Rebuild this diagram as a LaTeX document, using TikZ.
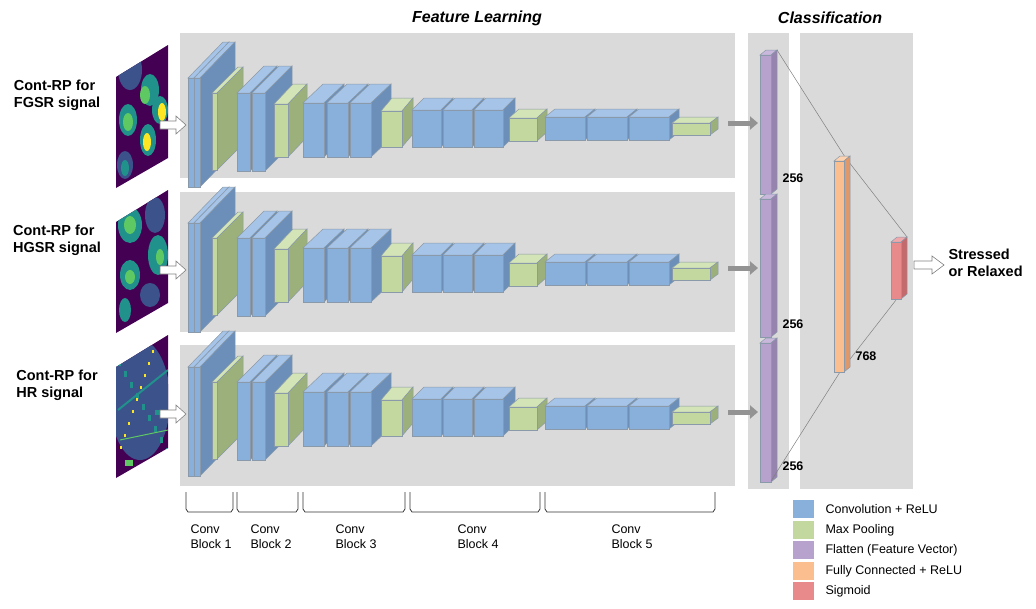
\documentclass[tikz,border=0pt]{standalone}
\usepackage{fontspec}
\setmainfont{Liberation Sans}
\usetikzlibrary{arrows.meta}
\definecolor{panel}{HTML}{DADADA}
\definecolor{edge}{HTML}{8A9AAA}
\definecolor{cb}{HTML}{88B0DA}\definecolor{cbtop}{HTML}{A6C4E8}\definecolor{cbside}{HTML}{6B8FB8}
\definecolor{cg}{HTML}{C3D89E}\definecolor{cgtop}{HTML}{D3E4B6}\definecolor{cgside}{HTML}{9BB07A}
\definecolor{cp}{HTML}{B7A2CE}\definecolor{cptop}{HTML}{C9B8DC}\definecolor{cpside}{HTML}{9683AE}
\definecolor{co}{HTML}{FBBE8E}\definecolor{cotop}{HTML}{FDD2B0}\definecolor{coside}{HTML}{DE986A}
\definecolor{cr}{HTML}{E8898B}\definecolor{crtop}{HTML}{F0A8AA}\definecolor{crside}{HTML}{C46A6C}
\definecolor{vd}{HTML}{440154}\definecolor{vb}{HTML}{3B528B}\definecolor{vt}{HTML}{21918C}\definecolor{vg}{HTML}{5EC962}\definecolor{vy}{HTML}{FDE725}
\newcommand\cub[7]{%
 \filldraw[fill=#7top,draw=edge,line width=0.5pt] (#1,#2) -- ++(#5,-#6) -- ++(#3,0) -- ++(-#5,#6) -- cycle;
 \filldraw[fill=#7side,draw=edge,line width=0.5pt] ({#1+#3},#2) -- ++(#5,-#6) -- ++(0,#4) -- ++(-#5,#6) -- cycle;
 \filldraw[fill=#7,draw=edge,line width=0.5pt] (#1,#2) rectangle ++(#3,#4);}
\newcommand\cnnrow{%
 \cub{188}{78}{6}{109}{35}{36}{cb}\cub{194}{78}{6}{109}{35}{36}{cb}
 \cub{212}{93}{5}{77}{26}{26}{cg}
 \cub{237}{93}{13}{78}{27}{27}{cb}\cub{252}{93}{13}{78}{27}{27}{cb}
 \cub{274}{104}{14}{53}{19}{20}{cg}
 \cub{303}{103}{21}{54}{20}{19}{cb}\cub{327}{103}{21}{54}{20}{19}{cb}\cub{350}{103}{21}{54}{20}{19}{cb}
 \cub{381}{111}{21}{36}{11}{13}{cg}
 \cub{412}{110}{29}{37}{12}{12}{cb}\cub{443}{110}{29}{37}{12}{12}{cb}\cub{474}{110}{29}{37}{12}{12}{cb}
 \cub{509}{118}{28}{23}{10}{9}{cg}
 \cub{545}{117}{40}{23}{10}{8}{cb}\cub{587}{117}{40}{23}{10}{8}{cb}\cub{629}{117}{40}{23}{10}{8}{cb}
 \cub{672}{123}{38}{12}{8}{6}{cg}
 \draw[line width=5pt,color=gray!85,-{Triangle[length=8pt,width=13pt]}] (728,123) -- (758,123);
 \draw[fill=white,draw=gray,line width=0.6pt] (160,121) -- (176,121) -- (176,116) -- (186,125) -- (176,134) -- (176,129) -- (160,129) -- cycle;}
\newcommand\heat[1]{%
 \begin{scope}
 \clip (116,77) -- (168,45) -- (168,158) -- (116,188) -- cycle;
 \fill[vd] (100,30) rectangle (180,200);
 #1
 \end{scope}}
\begin{document}
\begin{tikzpicture}[x=1pt,y=-1pt,
 lab/.style={font=\bfseries\fontsize{14.5}{17}\selectfont,align=left},
 num/.style={font=\bfseries\fontsize{12.5}{14}\selectfont},
 small/.style={font=\fontsize{12.5}{15}\selectfont,align=left}]
\useasboundingbox (0,0) rectangle (1036,608);
% panels
\fill[panel] (180,33) rectangle (735,178);
\fill[panel] (180,192) rectangle (735,332);
\fill[panel] (180,345) rectangle (735,486);
\fill[panel] (748,33) rectangle (789,489);
\fill[panel] (800,33) rectangle (913,489);
\node[font=\bfseries\itshape\fontsize{16}{18}\selectfont] (t1) at (477,18) {Feature Learning};
\node[font=\bfseries\itshape\fontsize{16}{18}\selectfont] (t2) at (830,18) {Classification};
% heatmaps
\heat{\fill[vb] (130,70) ellipse (12 and 20);\fill[vt] (150,90) ellipse (9 and 16);\fill[vg] (145,95) ellipse (5 and 9);
 \fill[vt] (160,110) ellipse (8 and 14);\fill[vy] (162,112) ellipse (4 and 9);\fill[vt] (128,120) ellipse (9 and 16);\fill[vg] (128,122) ellipse (5 and 9);
 \fill[vt] (148,140) ellipse (8 and 16);\fill[vy] (147,142) ellipse (4 and 9);\fill[vb] (125,165) ellipse (8 and 14);\fill[vt] (125,168) ellipse (4 and 8);}
\begin{scope}[yshift=-145pt]
\heat{\fill[vt] (130,80) ellipse (12 and 18);\fill[vg] (130,80) ellipse (6 and 9);\fill[vb] (155,70) ellipse (10 and 18);
 \fill[vt] (158,110) ellipse (10 and 20);\fill[vg] (160,112) ellipse (4 and 8);\fill[vt] (130,130) ellipse (10 and 15);\fill[vg] (130,132) ellipse (5 and 7);
 \fill[vb] (150,150) ellipse (10 and 12);\fill[vt] (125,165) ellipse (6 and 12);}
\end{scope}
\begin{scope}[yshift=-290pt]
\heat{\fill[vb] (140,110) ellipse (30 and 60);
 \foreach \a in {0,...,8}{\fill[vt] ({118+\a*6},{70+\a*11}) rectangle ++(3,6);\fill[vy] ({152-\a*4},{60+\a*12}) rectangle ++(2,3);}
 \draw[vt,line width=2pt] (118,120) -- (168,80);\draw[vg,line width=1pt] (120,150) -- (168,140);
 \fill[vg] (125,170) rectangle ++(8,6);\fill[vt] (155,120) rectangle ++(10,5);}
\end{scope}
% labels left
\node[lab] (l1) at (57,95) {Cont-RP for\\FGSR signal};
\node[lab] (l2) at (57,240) {Cont-RP for\\HGSR signal};
\node[lab] (l3) at (57,385) {Cont-RP for\\HR signal};
% cnn rows
\cnnrow
\begin{scope}[yshift=-145pt]\cnnrow\end{scope}
\begin{scope}[yshift=-289pt]\cnnrow\end{scope}
% flatten bars
\cub{760}{55}{11}{139}{6}{5}{cp}
\cub{760}{199}{11}{138}{6}{5}{cp}
\cub{760}{343}{11}{139}{6}{5}{cp}
\node[num] (n1) at (793,178) {256};
\node[num] (n2) at (793,324) {256};
\node[num] (n3) at (793,466) {256};
% connecting lines
\draw[gray,line width=0.5pt] (777,50) -- (845,157) -- (907,237);
\draw[gray,line width=0.5pt] (771,481) -- (840,372) -- (896,300);
\cub{834}{161}{10}{211}{6}{5}{co}
\node[num] (n4) at (866,356) {768};
\cub{891}{242}{10}{57}{6}{5}{cr}
\draw[fill=white,draw=gray,line width=0.6pt] (914,261) -- (932,261) -- (932,256) -- (944,265) -- (932,274) -- (932,269) -- (914,269) -- cycle;
\node[lab,anchor=west] (out) at (945,263) {Stressed\\or Relaxed};
% brackets
\foreach \a/\b in {186/233,237/298,303/405,410/540,545/715}
 \draw[black!80,line width=0.8pt] (\a,492) -- (\a,509) -- ++(2,3) -- ({\b-2},512) -- (\b,509) -- (\b,492);
\node[small] (b1) at (211,537) {Conv\\Block 1};
\node[small] (b2) at (271,537) {Conv\\Block 2};
\node[small] (b3) at (356,537) {Conv\\Block 3};
\node[small] (b4) at (478,537) {Conv\\Block 4};
\node[small] (b5) at (632,537) {Conv\\Block 5};
% legend
\foreach \c/\t/\y in {cb/Convolution + ReLU/509,cg/Max Pooling/530,cp/Flatten (Feature Vector)/550,co/Fully Connected + ReLU/571,cr/Sigmoid/591}{
 \fill[\c] (793,{\y-9}) rectangle (814,{\y+9});
 \node[small,anchor=west] at (822,\y) {\t};}
\end{tikzpicture}
\end{document}
